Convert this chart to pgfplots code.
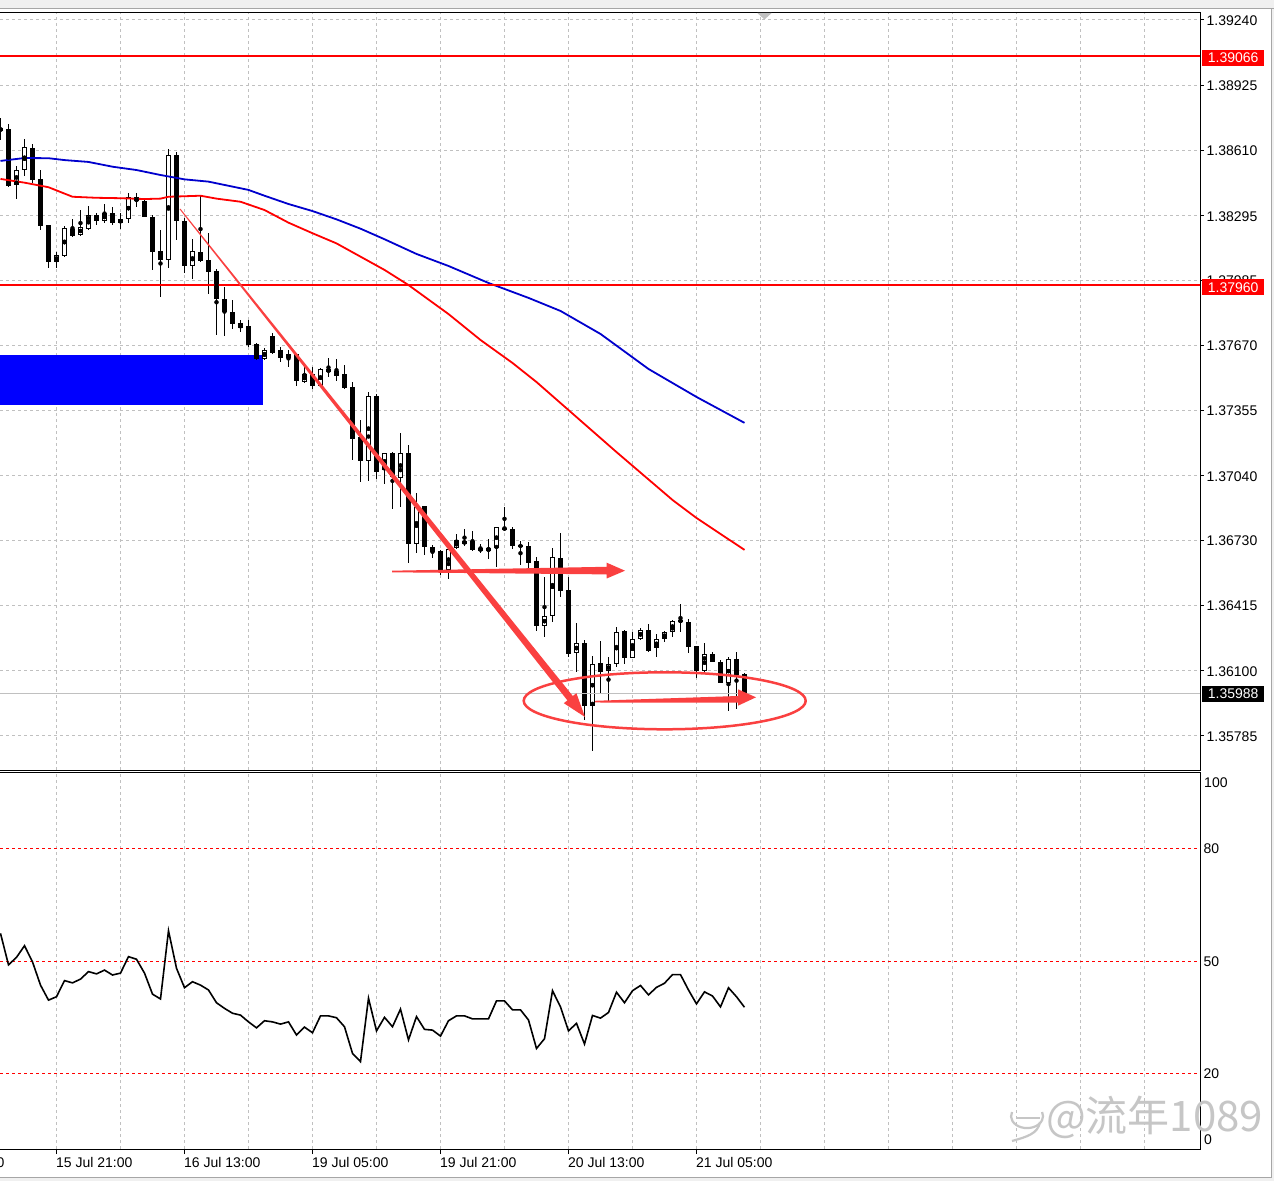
\documentclass[border=0pt]{standalone}
\usepackage{pgfplots}
\pgfplotsset{compat=1.18}
\usepackage{pgfplotstable}
\usepackage{fontspec}
\setmainfont{Liberation Sans}
\newfontfamily\cjk{Noto Sans CJK SC}
\definecolor{gridgray}{RGB}{192,192,192}
\definecolor{arrowred}{RGB}{250,64,64}
\definecolor{mablue}{RGB}{0,0,205}
\definecolor{topgray}{RGB}{240,240,240}
\newcommand{\lbl}{\fontsize{14}{16}\selectfont}

\pgfplotstableread{
i o h l c
-5 1.38444 1.38536 1.38376 1.38516
-4 1.38516 1.38666 1.38487 1.38627
0 1.38072 1.38121 1.38043 1.38106
1 1.38101 1.38246 1.38096 1.38236
3 1.38203 1.38323 1.38198 1.38241
4 1.38231 1.38343 1.38227 1.38299
6 1.38270 1.38352 1.38260 1.38309
8 1.38260 1.38309 1.38231 1.38280
9 1.38280 1.38405 1.38260 1.38386
14 1.38082 1.38618 1.38043 1.38589
17 1.38053 1.38183 1.37990 1.38125
26 1.37604 1.37657 1.37602 1.37648
29 1.37609 1.37648 1.37566 1.37628
31 1.37493 1.37566 1.37491 1.37532
33 1.37474 1.37561 1.37472 1.37556
39 1.37112 1.37445 1.37016 1.37426
41 1.37069 1.37153 1.37001 1.37151
43 1.37030 1.37247 1.36890 1.37151
45 1.36712 1.36958 1.36668 1.36890
49 1.36586 1.36689 1.36543 1.36687
50 1.36692 1.36760 1.36687 1.36730
51 1.36712 1.36784 1.36702 1.36726
54 1.36678 1.36736 1.36639 1.36692
55 1.36692 1.36796 1.36601 1.36794
56 1.36784 1.36890 1.36779 1.36789
61 1.36316 1.36552 1.36263 1.36364
62 1.36364 1.36692 1.36335 1.36649
65 1.36186 1.36330 1.36094 1.36234
67 1.35930 1.36171 1.35713 1.36132
69 1.36099 1.36166 1.35949 1.36132
70 1.36132 1.36311 1.36118 1.36287
72 1.36161 1.36287 1.36159 1.36253
73 1.36253 1.36306 1.36248 1.36297
75 1.36210 1.36277 1.36166 1.36253
76 1.36253 1.36292 1.36239 1.36287
77 1.36287 1.36345 1.36263 1.36340
78 1.36340 1.36422 1.36287 1.36342
81 1.36099 1.36234 1.36089 1.36181
84 1.36041 1.36166 1.35906 1.36157
}\bulls

\pgfplotstableread{
i o h l c
-7 1.38719 1.38767 1.38661 1.38704
-6 1.38714 1.38738 1.38434 1.38439
-3 1.38622 1.38642 1.38453 1.38468
-2 1.38473 1.38516 1.38227 1.38246
-1 1.38251 1.38253 1.38043 1.38072
2 1.38231 1.38280 1.38193 1.38198
5 1.38299 1.38309 1.38251 1.38270
7 1.38309 1.38338 1.38251 1.38260
10 1.38386 1.38405 1.38338 1.38367
11 1.38367 1.38371 1.38289 1.38289
12 1.38289 1.38299 1.38034 1.38121
13 1.38125 1.38227 1.37903 1.38082
15 1.38589 1.38603 1.38178 1.38270
16 1.38270 1.38285 1.38019 1.38053
18 1.38121 1.38391 1.38072 1.38077
19 1.38082 1.38212 1.37918 1.38024
20 1.38029 1.38038 1.37720 1.37894
21 1.37894 1.37952 1.37715 1.37831
22 1.37831 1.37889 1.37749 1.37773
23 1.37778 1.37792 1.37734 1.37754
24 1.37763 1.37792 1.37662 1.37672
25 1.37677 1.37681 1.37599 1.37604
27 1.37715 1.37730 1.37630 1.37633
28 1.37648 1.37662 1.37590 1.37609
30 1.37628 1.37633 1.37474 1.37498
32 1.37532 1.37566 1.37459 1.37474
34 1.37556 1.37609 1.37517 1.37541
35 1.37546 1.37604 1.37498 1.37522
36 1.37532 1.37575 1.37462 1.37464
37 1.37469 1.37493 1.37117 1.37218
38 1.37228 1.37310 1.37011 1.37112
40 1.37426 1.37435 1.37025 1.37059
42 1.37151 1.37155 1.36880 1.37035
44 1.37151 1.37189 1.36620 1.36712
46 1.36895 1.36897 1.36658 1.36697
47 1.36697 1.36707 1.36644 1.36673
48 1.36678 1.36683 1.36562 1.36586
52 1.36726 1.36774 1.36678 1.36683
53 1.36692 1.36712 1.36668 1.36678
57 1.36784 1.36794 1.36687 1.36702
58 1.36707 1.36726 1.36610 1.36697
59 1.36702 1.36722 1.36596 1.36620
60 1.36630 1.36649 1.36292 1.36316
63 1.36644 1.36765 1.36456 1.36485
64 1.36490 1.36552 1.36166 1.36181
66 1.36234 1.36248 1.35862 1.35930
68 1.36137 1.36243 1.35992 1.36094
71 1.36292 1.36299 1.36132 1.36161
74 1.36297 1.36325 1.36193 1.36195
79 1.36335 1.36350 1.36186 1.36215
80 1.36219 1.36221 1.36065 1.36099
82 1.36181 1.36190 1.36140 1.36142
83 1.36142 1.36152 1.36039 1.36041
85 1.36157 1.36190 1.35915 1.36079
86 1.36084 1.36089 1.35973 1.35988
}\bears

\pgfplotstableread{
i p
-7 1.38560
-4 1.38574
-1 1.38573
1 1.38564
4 1.38555
7 1.38532
10 1.38516
13 1.38492
16 1.38471
19 1.38460
22 1.38436
24 1.38420
26 1.38392
29 1.38352
32 1.38318
35 1.38278
38 1.38233
41 1.38182
45 1.38111
49 1.38053
54 1.37971
59 1.37899
63 1.37836
68 1.37725
74 1.37556
80 1.37421
86 1.37296
}\maslow

\pgfplotstableread{
i p
-7 1.38473
-4 1.38455
-1 1.38433
2 1.38387
5 1.38382
8 1.38380
11 1.38376
13 1.38378
14 1.38387
18 1.38392
20 1.38378
23 1.38363
26 1.38323
29 1.38262
32 1.38211
35 1.38162
38 1.38098
41 1.38034
44 1.37961
49 1.37821
53 1.37696
57 1.37585
60 1.37493
65 1.37324
70 1.37155
77 1.36924
80 1.36837
86 1.36683
}\mafast

\pgfplotstableread{
i v
-7 57.5
-6 49.1
-5 51.1
-4 54.2
-3 49.9
-2 43.7
-1 39.7
0 40.6
1 44.9
2 44.3
3 45.3
4 47.3
5 46.7
6 47.7
7 46.4
8 46.9
9 51.3
10 50.6
11 46.9
12 41.3
13 40.0
14 58.2
15 48.2
16 43.0
17 44.6
18 43.7
19 42.4
20 39.0
21 37.5
22 36.2
23 35.7
24 33.9
25 32.3
26 34.2
27 33.9
28 33.3
29 33.9
30 30.4
31 32.5
32 31.0
33 35.5
34 35.5
35 35.0
36 32.6
37 25.5
38 23.3
39 40.2
40 31.5
41 35.1
42 32.6
43 37.3
44 29.1
45 35.3
46 31.9
47 31.7
48 30.1
49 34.2
50 35.5
51 35.5
52 34.7
53 34.7
54 34.7
55 39.5
56 39.5
57 37.1
58 37.1
59 34.4
60 26.8
61 29.4
62 42.2
63 37.9
64 31.5
65 33.5
66 28.0
67 35.6
68 34.9
69 36.4
70 41.8
71 39.0
72 42.2
73 43.6
74 41.1
75 43.1
76 44.2
77 46.5
78 46.5
79 42.4
80 38.7
81 41.9
82 40.8
83 37.9
84 43.0
85 40.6
86 37.8
}\rsi

\begin{document}
\begin{tikzpicture}[x=1pt,y=1pt]
\useasboundingbox (0,0) rectangle (1274,1181);
\fill[white] (0,0) rectangle (1274,1181);

% ---------- price panel ----------
\begin{axis}[
  at={(0pt,411pt)}, anchor=south west,
  scale only axis, width=1200pt, height=758pt,
  xmin=-7.0625, xmax=142.9375, ymin=1.356209, ymax=1.392786,
  axis line style={draw=none},
  xtick={0,8,...,136}, xticklabels={}, xtick style={draw=none},
  ytick={1.39240,1.38925,1.38610,1.38295,1.37985,1.37670,1.37355,1.37040,1.36730,1.36415,1.36100,1.35785},
  yticklabels={1.39240,1.38925,1.38610,1.38295,1.37985,1.37670,1.37355,1.37040,1.36730,1.36415,1.36100,1.35785},
  ytick pos=right, yticklabel pos=right,
  tick align=outside, major tick length=4pt,
  ytick style={draw=black, line width=1pt},
  yticklabel style={font=\lbl, anchor=west, inner sep=0pt, xshift=2.5pt, yshift=-0.5pt},
  grid=major, grid style={gridgray, dash pattern=on 3pt off 3pt, line width=1pt},
  clip=true,
]
\fill[blue] (axis cs:-7.0625,1.37382) rectangle (axis cs:25.875,1.37624);
% wicks
\addplot[only marks, mark=none, error bars/.cd, y dir=both, y explicit, error mark=none,
  error bar style={black, line width=1pt}]
  table[x=i, y expr=(\thisrow{h}+\thisrow{l})/2, y error expr=(\thisrow{h}-\thisrow{l})/2]{\bears};
\addplot[only marks, mark=none, error bars/.cd, y dir=both, y explicit, error mark=none,
  error bar style={black, line width=1pt}]
  table[x=i, y expr=(\thisrow{h}+\thisrow{l})/2, y error expr=(\thisrow{h}-\thisrow{l})/2]{\bulls};
% bodies
\addplot[only marks, mark=none, error bars/.cd, y dir=both, y explicit, error mark=none,
  error bar style={black, line width=5pt}]
  table[x=i, y expr=(\thisrow{o}+\thisrow{c})/2, y error expr={max(abs(\thisrow{o}-\thisrow{c})/2,0.000025)}]{\bears};
\addplot[only marks, mark=none, error bars/.cd, y dir=both, y explicit, error mark=none,
  error bar style={black, line width=5pt}]
  table[x=i, y expr=(\thisrow{o}+\thisrow{c})/2, y error expr={max(abs(\thisrow{o}-\thisrow{c})/2,0.000025)}]{\bulls};
\addplot[only marks, mark=none, error bars/.cd, y dir=both, y explicit, error mark=none,
  error bar style={white, line width=3pt}]
  table[x=i, y expr=(\thisrow{o}+\thisrow{c})/2, y error expr={max(abs(\thisrow{o}-\thisrow{c})/2-0.000048,0)}]{\bulls};
% moving averages
\addplot[mablue, line width=1.8pt, mark=none] table[x=i, y=p]{\maslow};
\addplot[red, line width=1.8pt, mark=none] table[x=i, y=p]{\mafast};
% horizontal levels
\draw[red, line width=1.6pt] (axis cs:-7.0625,1.39066) -- (axis cs:142.9375,1.39066);
\draw[red, line width=1.6pt] (axis cs:-7.0625,1.37960) -- (axis cs:142.9375,1.37960);
\draw[gridgray, line width=1pt] (axis cs:-7.0625,1.35988) -- (axis cs:142.9375,1.35988);
\end{axis}

% ---------- RSI panel ----------
\begin{axis}[
  at={(0pt,32pt)}, anchor=south west,
  scale only axis, width=1200pt, height=377pt,
  xmin=-7.0625, xmax=142.9375, ymin=0, ymax=100.53,
  axis line style={draw=none},
  xtick={0,16,...,80},
  xticklabels={15 Jul 21:00,16 Jul 13:00,19 Jul 05:00,19 Jul 21:00,20 Jul 13:00,21 Jul 05:00},
  xtick pos=bottom, tick align=outside, major tick length=5pt,
  xtick style={draw=black, line width=1pt},
  xticklabel style={font=\lbl, anchor=north west, inner sep=0pt, xshift=-0.5pt, yshift=-3pt},
  xmajorgrids=false, ymajorgrids=false,
  extra x ticks={0,8,...,136}, extra x tick labels={},
  extra x tick style={xmajorgrids=true, ymajorgrids=false, major tick length=0pt},
  grid style={gridgray, dash pattern=on 3pt off 3pt, line width=1pt},
  ytick={20,50,80}, yticklabels={20,50,80},
  ytick pos=right, yticklabel pos=right, ytick style={draw=none},
  yticklabel style={font=\lbl, anchor=west, inner sep=0pt, xshift=-1.5pt},
  clip=true,
]
\draw[red, dash pattern=on 3pt off 3pt, line width=1pt] (axis cs:-7.0625,80) -- (axis cs:142.9375,80);
\draw[red, dash pattern=on 3pt off 3pt, line width=1pt] (axis cs:-7.0625,50) -- (axis cs:142.9375,50);
\draw[red, dash pattern=on 3pt off 3pt, line width=1pt] (axis cs:-7.0625,20) -- (axis cs:142.9375,20);
\addplot[black, line width=1.6pt, mark=none] table[x=i, y=v]{\rsi};
\end{axis}

% ---------- decorations in pixel coordinates ----------
\begin{scope}[yshift=1181pt, y=-1pt]
  % window chrome
  \fill[topgray] (0,0) rectangle (1274,8.5);
  \draw[gray!70, line width=1pt] (0,9) -- (1274,9);
  \fill[topgray] (1272,9) rectangle (1274,1181);
  \draw[gray!70, line width=1pt] (1271.5,9) -- (1271.5,1177.5);
  \fill[topgray] (0,1178) rectangle (1274,1181);
  \draw[gray!70, line width=1pt] (0,1177.5) -- (1272,1177.5);
  % frames
  \draw[black, line width=1pt] (0,12.5) -- (1200.5,12.5) -- (1200.5,770.5) -- (0,770.5);
  \draw[black, line width=1pt] (0,772.5) -- (1200.5,772.5) -- (1200.5,1149.5) -- (0,1149.5);
  % chart shift marker
  \fill[gridgray] (757.3,13) -- (771.7,13) -- (764.5,19.5) -- cycle;
  % partially visible first date label
  \node[anchor=north west, inner sep=0pt, font=\lbl] at (-72,1157) {15 Jul 05:00};
  % price tags
  \fill[red] (1201.7,50) rectangle (1264,66);
  \node[anchor=west, inner sep=0pt, text=white, font=\lbl] at (1207.7,58) {1.39066};
  \fill[red] (1201.7,279.5) rectangle (1264,295.5);
  \node[anchor=west, inner sep=0pt, text=white, font=\lbl] at (1207.7,287.5) {1.37960};
  \fill[black] (1201.7,685.7) rectangle (1264,701.7);
  \node[anchor=west, inner sep=0pt, text=white, font=\lbl] at (1207.7,693.7) {1.35988};
  % RSI end labels
  \node[anchor=west, inner sep=0pt, font=\lbl] at (1204,783) {100};
  \node[anchor=west, inner sep=0pt, font=\lbl] at (1204,1140) {0};
  % drawn arrows
  \fill[arrowred] (179.6,209.3) -- (567.4,700.4) -- (563.8,703.2) -- (585,717)
     -- (576.4,693.2) -- (572.8,696.0) -- (180.4,208.7) -- cycle;
  \fill[arrowred] (392,570.7) -- (606.7,566.8) -- (606.7,562.7) -- (625,570.7)
     -- (606.7,578.5) -- (606.7,574.4) -- (392,572.3) -- cycle;
  \fill[arrowred] (595,700.8) -- (738,696) -- (738,689.3) -- (756,697.3)
     -- (738,705.7) -- (738,702.6) -- (595,702.5) -- cycle;
  \draw[arrowred, line width=2.5pt] (664.7,700.8) ellipse [x radius=141, y radius=28.5];
  % watermark
  \draw[gray!45, line width=2.2pt] (1012,1112) arc[start angle=200, end angle=-20, x radius=16, y radius=12];
  \draw[gray!45, line width=2.2pt] (1016,1118) -- (1040,1118);
  \draw[gray!45, line width=2.2pt] (1040,1122) .. controls (1038,1134) and (1026,1137) .. (1012,1141);
  \node[anchor=base west, inner sep=0pt, text=gray!45, font=\cjk\fontsize{42}{46}\selectfont] at (1046,1131) {@流年1089};
\end{scope}
\end{tikzpicture}
\end{document}
